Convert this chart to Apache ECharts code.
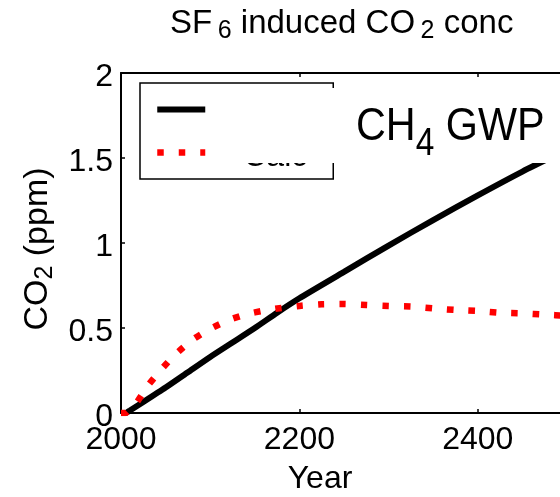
<!DOCTYPE html>
<html>
<head>
<meta charset="utf-8">
<script src="https://cdn.jsdelivr.net/npm/echarts@6/dist/echarts.min.js"></script>
<style>html,body{margin:0;padding:0;background:#fff;}#c{width:560px;height:497px;}</style>
</head>
<body>
<div id="c"></div>
<script>
// ---- data ----
var blackYears = [2000, 2005, 2010, 2025, 2050, 2075, 2100, 2125, 2150, 2175, 2200, 2250, 2300, 2350, 2400, 2450, 2500];
var blackValues = [0, 0.0, 0.015, 0.065, 0.15, 0.24, 0.33, 0.415, 0.50, 0.59, 0.675, 0.83, 0.985, 1.135, 1.28, 1.42, 1.55];
var redYears = [2000, 2005, 2010, 2018, 2030, 2045, 2060, 2080, 2100, 2120, 2140, 2160, 2180, 2200, 2225, 2250, 2275, 2300, 2325, 2350, 2375, 2400, 2425, 2450, 2475, 2500];
var redValues = [0, 0.0, 0.025, 0.065, 0.16, 0.255, 0.34, 0.43, 0.495, 0.545, 0.58, 0.602, 0.618, 0.63, 0.64, 0.641, 0.635, 0.629, 0.626, 0.615, 0.606, 0.6, 0.59, 0.586, 0.579, 0.572];
var seriesNames = ['GWP', 'Calc'];
var xTickInterval = 200;
var yTickInterval = 0.5;

var FONT = "'Liberation Sans', Arial, sans-serif";

function pairs(xs, ys) { return xs.map(function (x, i) { return [x, ys[i]]; }); }

var chart = echarts.init(document.getElementById('c'), null, {renderer: 'canvas'});
var tickStyle = {show: true, inside: true, length: 4, lineStyle: {color: '#000', width: 1.5}};
var lineStyleAxis = {show: true, lineStyle: {color: '#000', width: 2}};
function richFor(size) {
  return {
    a: {fontFamily: FONT, fontSize: size, fontWeight: 'normal', color: '#000', lineHeight: 40},
    g: {fontFamily: FONT, fontSize: 20, fontWeight: 'normal', color: '#000', lineHeight: 4, verticalAlign: 'bottom'},
    s: {fontFamily: FONT, fontSize: 25, fontWeight: 'normal', color: '#000', lineHeight: 4, verticalAlign: 'bottom'}
  };
}
chart.setOption({
  animation: false,
  backgroundColor: '#fff',
  title: {
    text: '{a|SF}{g| }{s|6}{a| induced CO}{g| }{s|2}{a| conc}',
    left: 170, top: 4, padding: 0,
    textStyle: {fontWeight: 'normal', rich: richFor(33)}
  },
  grid: {left: 121, top: 73, right: -7, bottom: 84, containLabel: false, outerBoundsMode: 'none'},
  legend: {
    data: [
      {name: seriesNames[0], lineStyle: {width: 6, type: 'solid'}},
      {name: seriesNames[1], lineStyle: {width: 6.5, type: [6.5, 15]}}
    ],
    orient: 'vertical',
    left: 140, top: 83,
    itemWidth: 48, itemHeight: 7, itemGap: 2,
    itemStyle: {opacity: 0},
    borderColor: '#000', borderWidth: 1.5,
    padding: [6, 10, 6, 14],
    backgroundColor: '#fff',
    formatter: function (name) { return '\n' + name; },
    textStyle: {fontFamily: FONT, fontSize: 32, color: '#000', lineHeight: 9, width: 80, padding: [0, 0, 0, 33]}
  },
  xAxis: [{
    type: 'value', min: 2000, max: 2500, interval: xTickInterval, position: 'bottom',
    name: 'Year', nameLocation: 'middle', nameGap: 46,
    nameTextStyle: {fontFamily: FONT, fontSize: 32, color: '#000', lineHeight: 36, padding: [0, 48, 0, 0]},
    axisLabel: {fontFamily: FONT, fontSize: 32, color: '#000', margin: 11, showMaxLabel: false,
      formatter: function (v) { return String(v); }},
    axisTick: tickStyle, axisLine: lineStyleAxis, splitLine: {show: false}
  }, {
    type: 'value', min: 2000, max: 2500, interval: xTickInterval, position: 'top',
    axisLabel: {show: false},
    axisTick: tickStyle, axisLine: lineStyleAxis, splitLine: {show: false}
  }],
  yAxis: [{
    type: 'value', min: 0, max: 2, interval: yTickInterval, position: 'left',
    name: '{a|CO}{s|2}{a| (ppm)}', nameLocation: 'middle', nameGap: 63, nameRotate: 90,
    nameTextStyle: {rich: richFor(34), padding: [0, 12, 0, 0]},
    axisLabel: {fontFamily: FONT, fontSize: 32, color: '#000', margin: 8, lineHeight: 8,
      formatter: function (v) { return '\n' + String(v); }},
    axisTick: tickStyle, axisLine: lineStyleAxis, splitLine: {show: false}
  }],
  series: [{
    name: seriesNames[0], type: 'line', xAxisIndex: 0, yAxisIndex: 0,
    data: pairs(blackYears, blackValues), showSymbol: false, symbol: 'none', smooth: 0.2,
    lineStyle: {color: '#000', width: 6}, itemStyle: {color: '#000'}, z: 2
  }, {
    name: seriesNames[1], type: 'line', xAxisIndex: 0, yAxisIndex: 0,
    data: pairs(redYears, redValues), showSymbol: false, symbol: 'none', smooth: 0.2,
    lineStyle: {color: '#ff0000', width: 6.5, type: [6.5, 15], cap: 'butt'}, itemStyle: {color: '#ff0000'}, z: 3
  }],
  graphic: [{
    type: 'rect', left: 220, top: 88, z: 100,
    shape: {width: 345, height: 75},
    style: {fill: '#fff'}
  }, {
    type: 'text', x: 356, y: 102, scaleX: 0.88, z: 101,
    style: {
      text: '{a|CH}{s|4}{a| GWP}',
      verticalAlign: 'top',
      rich: {
        a: {fontFamily: FONT, fontSize: 47, fill: '#000', lineHeight: 50},
        s: {fontFamily: FONT, fontSize: 38, fill: '#000', lineHeight: 14, padding: [36, 0, 0, 0]}
      }
    }
  }]
});
</script>
</body>
</html>
